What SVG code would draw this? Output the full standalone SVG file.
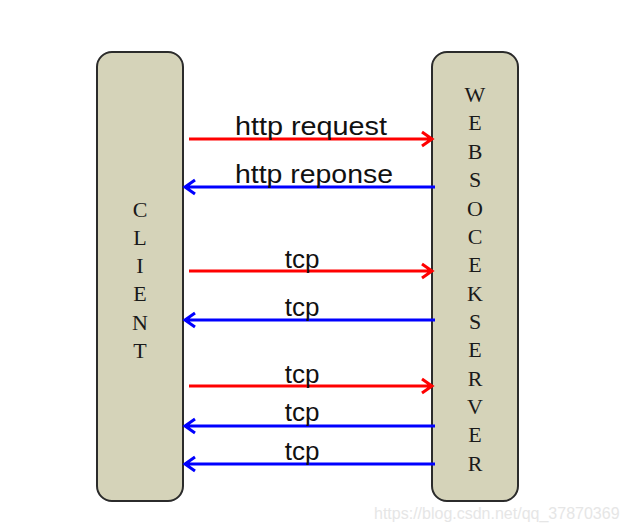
<svg xmlns="http://www.w3.org/2000/svg" width="627" height="532" viewBox="0 0 627 532">
<style>
.box{fill:#d5d3b9;stroke:#2b2b2b;stroke-width:2}
.let{font-family:"Liberation Serif",serif;font-size:22px;fill:#1a1a1a;text-anchor:middle}
.lbl{font-family:"Liberation Sans",Arial,sans-serif;font-size:26px;fill:#111;text-anchor:middle}
.req{stroke:#ff0000;stroke-width:3;fill:none}
.res{stroke:#0000ff;stroke-width:3;fill:none}
.wm{font-family:"Liberation Sans",Arial,sans-serif;font-size:16px;fill:#e6e6e6}
</style>
<rect width="627" height="532" fill="#fff"/>
<g id="client">
<rect class="box" x="97" y="52" width="86" height="449" rx="15"/>
<text class="let" x="140" y="217">C</text>
<text class="let" x="140" y="245">L</text>
<text class="let" x="140" y="273">I</text>
<text class="let" x="140" y="301">E</text>
<text class="let" x="140" y="330">N</text>
<text class="let" x="140" y="358">T</text>
</g>
<g id="server">
<rect class="box" x="432" y="52" width="86" height="449" rx="15"/>
<text class="let" x="475" y="102">W</text>
<text class="let" x="475" y="130">E</text>
<text class="let" x="475" y="159">B</text>
<text class="let" x="475" y="187">S</text>
<text class="let" x="475" y="216">O</text>
<text class="let" x="475" y="244">C</text>
<text class="let" x="475" y="272">E</text>
<text class="let" x="475" y="301">K</text>
<text class="let" x="475" y="329">S</text>
<text class="let" x="475" y="357">E</text>
<text class="let" x="475" y="386">R</text>
<text class="let" x="475" y="414">V</text>
<text class="let" x="475" y="442">E</text>
<text class="let" x="475" y="471">R</text>
</g>
<g id="connectors">
<path class="req" d="M189 139H432M422 132L432 139L422 146"/>
<path class="res" d="M435 187H185M195 180L185 187L195 194"/>
<path class="req" d="M189 271H432M422 264L432 271L422 278"/>
<path class="res" d="M435 320H185M195 313L185 320L195 327"/>
<path class="req" d="M189 386H432M422 379L432 386L422 393"/>
<path class="res" d="M435 426H185M195 419L185 426L195 433"/>
<path class="res" d="M435 464H185M195 457L185 464L195 471"/>
<text class="lbl" x="311" y="135" textLength="152" lengthAdjust="spacingAndGlyphs">http request</text>
<text class="lbl" x="314" y="183" textLength="158" lengthAdjust="spacingAndGlyphs">http reponse</text>
<text class="lbl" x="302" y="268">tcp</text>
<text class="lbl" x="302" y="316">tcp</text>
<text class="lbl" x="302" y="383">tcp</text>
<text class="lbl" x="302" y="421">tcp</text>
<text class="lbl" x="302" y="460">tcp</text>
</g>
<text class="wm" x="374" y="519">https://blog.csdn.net/qq_37870369</text>
</svg>
